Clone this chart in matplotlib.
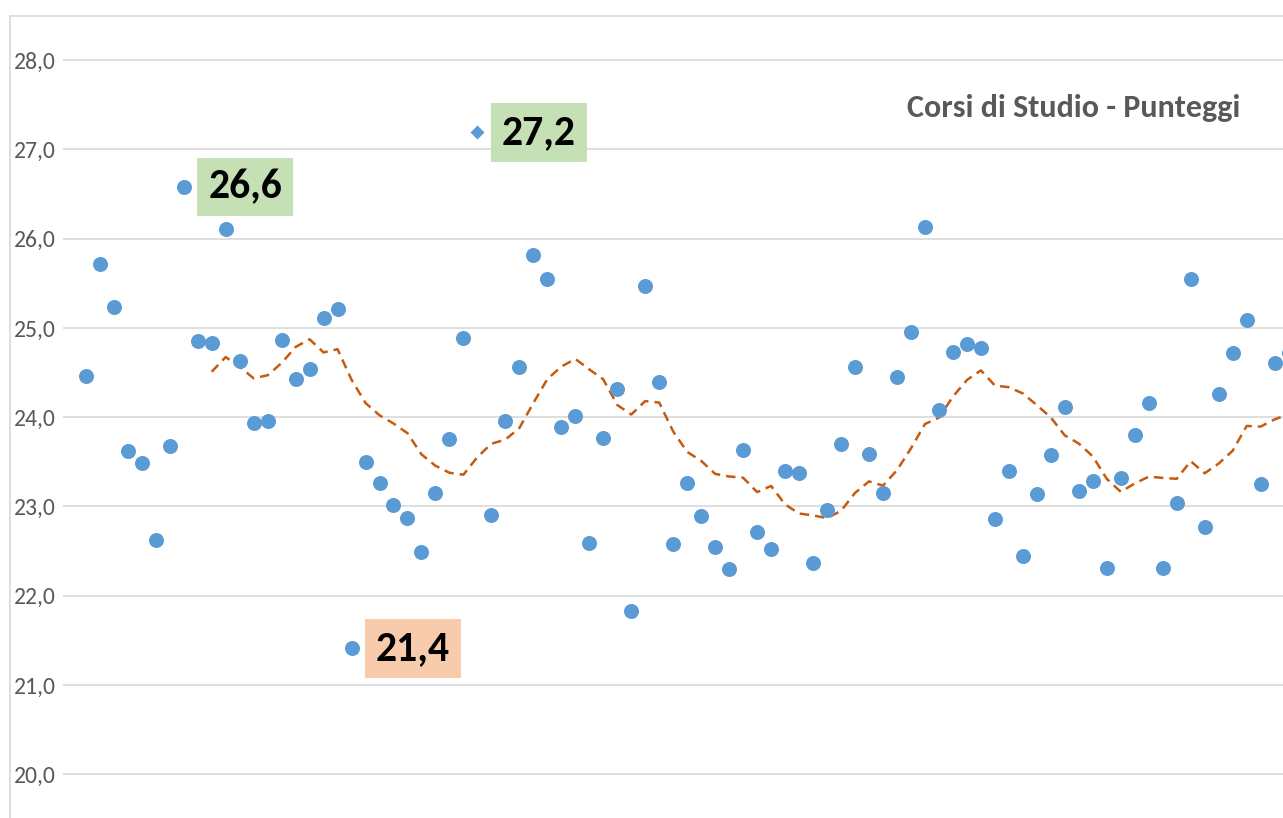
import matplotlib
matplotlib.use("Agg")
import matplotlib.pyplot as plt
import numpy as np
import pandas as pd
from matplotlib import font_manager as fm
from matplotlib.lines import Line2D

# ---------------- data ----------------
scores = [24.46, 25.72, 25.23, 23.62, 23.49, 22.63, 23.68, 26.58, 24.85, 24.83,
          26.11, 24.63, 23.94, 23.96, 24.86, 24.43, 24.54, 25.11, 25.21, 21.41,
          23.50, 23.26, 23.02, 22.87, 22.49, 23.15, 23.76, 24.89, 27.19, 22.90,
          23.96, 24.56, 25.82, 25.55, 23.89, 24.01, 22.59, 23.77, 24.32, 21.83,
          25.47, 24.39, 22.58, 23.26, 22.89, 22.55, 22.30, 23.63, 22.71, 22.52,
          23.40, 23.37, 22.37, 22.96, 23.70, 24.56, 23.59, 23.15, 24.45, 24.96,
          26.13, 24.08, 24.73, 24.82, 24.78, 22.86, 23.40, 22.45, 23.14, 23.58,
          24.12, 23.17, 23.29, 22.31, 23.32, 23.80, 24.16, 22.31, 23.04, 25.55,
          22.77, 24.26, 24.72, 25.09, 23.25, 24.61, 24.72]
course_index = list(range(len(scores)))
diamond_index = 28                       # point drawn as a diamond
highlight_green = [7, 28]                # max-type labels
highlight_orange = [19]                  # min label
moving_avg_period = 10
y_ticks = [20, 21, 22, 23, 24, 25, 26, 27, 28]
y_tick_labels = ["20,0", "21,0", "22,0", "23,0", "24,0", "25,0", "26,0", "27,0", "28,0"]
title_text = "Corsi di Studio - Punteggi"

# ---------------- style ----------------
avail = {f.name for f in fm.fontManager.ttflist}
font = next((f for f in ["Carlito", "Calibri", "Lato", "Open Sans"] if f in avail), "DejaVu Sans")
if font in ("Carlito", "Calibri"):
    tick_fs, label_fs, title_fs = 17, 30, 23
else:
    tick_fs, label_fs, title_fs = 15, 27, 24.7
plt.rcParams["font.family"] = [font, "DejaVu Sans"]

W, H = 1283, 818
fig = plt.figure(figsize=(W / 100, H / 100), dpi=100)
fig.patch.set_facecolor("white")

# chart-area border (cropped at the right / bottom)
border = "#D9D9D9"
fig.add_artist(Line2D([9.5 / W, 9.5 / W], [0, 1 - 16 / H], color=border, lw=1.2,
                      transform=fig.transFigure))
fig.add_artist(Line2D([9.5 / W, 1], [1 - 16 / H, 1 - 16 / H], color=border, lw=1.2,
                      transform=fig.transFigure))

ax = fig.add_axes([63 / W, 0, 1 - 63 / W, 1 - 20 / H])
ax.set_facecolor("none")
for s in ax.spines.values():
    s.set_visible(False)

ax.set_xlim(-1.63, 85.6)
ax.set_ylim(19.51, 28.45)
ax.set_yticks(y_ticks)
ax.set_yticklabels(y_tick_labels, fontsize=tick_fs, color="#595959")
ax.tick_params(axis="y", length=0, pad=5)
ax.set_xticks([])
ax.yaxis.grid(True, color="#D9D9D9", lw=1.2)
ax.set_axisbelow(True)

blue = "#5B9BD5"
x = np.array(course_index)
y = np.array(scores)

# moving average trendline
ma = pd.Series(y).rolling(moving_avg_period).mean()
ma_line, = ax.plot(x, ma, color="#C55A11", lw=1.8, zorder=2)
ma_line.set_dashes((3.8, 2.4))

mask = x != diamond_index
ax.plot(x[mask], y[mask], linestyle="none", marker="o", markersize=10.8,
        markerfacecolor=blue, markeredgecolor="none", zorder=3)
ax.plot([x[diamond_index]], [y[diamond_index]], linestyle="none", marker="D",
        markersize=7.6, markerfacecolor=blue, markeredgecolor="none", zorder=3)

def label(i, face):
    txt = f"{y[i]:.1f}".replace(".", ",")
    ax.annotate(txt, xy=(x[i], y[i]), xytext=(24.5 * 0.72, 0), textcoords="offset points",
                ha="left", va="center", fontsize=label_fs, fontweight="bold", color="black",
                bbox=dict(boxstyle="square,pad=0.26", facecolor=face, edgecolor="none"),
                zorder=4)

for i in highlight_green:
    label(i, "#C5E0B4")
for i in highlight_orange:
    label(i, "#F8CBAD")

fig.text(1240 / W, 1 - 117 / H, title_text, ha="right", va="baseline",
         fontsize=title_fs, fontweight="bold", color="#595959")

fig.savefig("out.png", dpi=100)
